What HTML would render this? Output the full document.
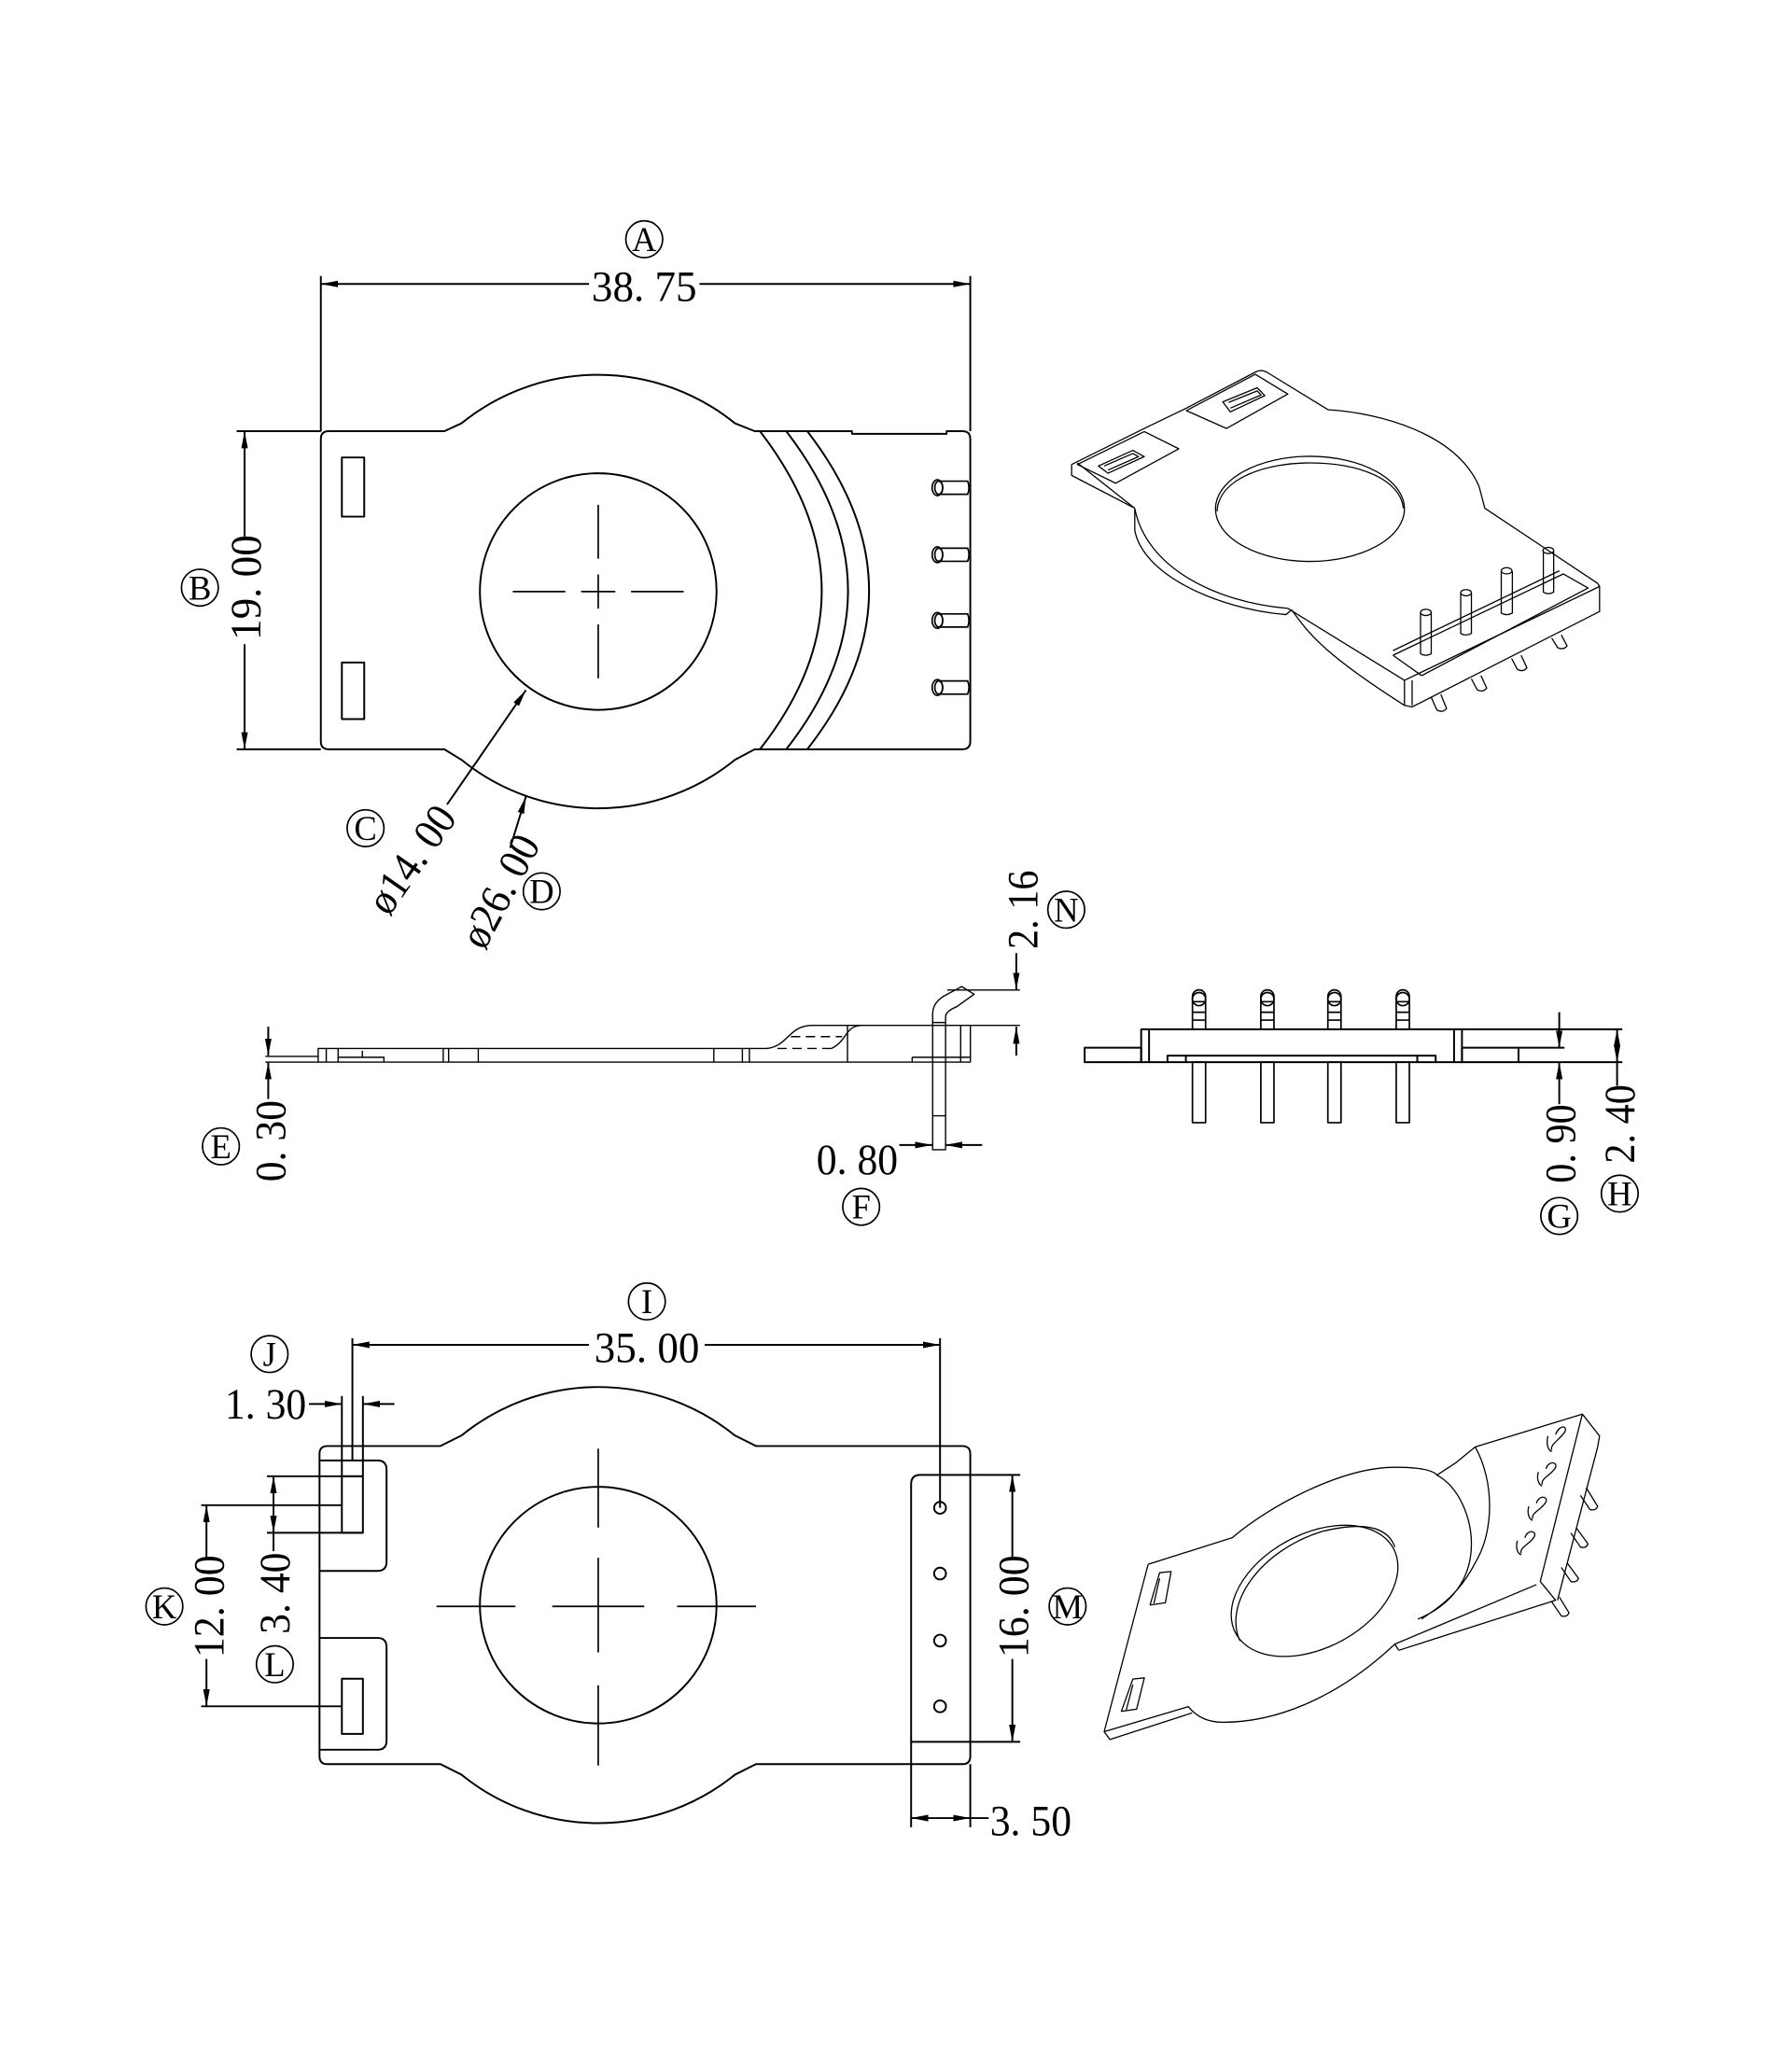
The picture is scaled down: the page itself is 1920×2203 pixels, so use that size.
<!DOCTYPE html>
<html><head><meta charset="utf-8"><style>
html,body{margin:0;padding:0;background:#fff}
svg{display:block}
text{font-family:"Liberation Serif",serif;fill:#000}
</style></head><body>
<svg width="1920" height="2203" viewBox="0 0 1363 1564" xmlns="http://www.w3.org/2000/svg">
<defs>
<marker id="a" markerWidth="14" markerHeight="8" refX="13" refY="4" orient="auto-start-reverse" markerUnits="userSpaceOnUse"><path d="M0,1.5 L13,4 L0,6.5 Z" fill="#000"/></marker>
</defs>
<g fill="none" stroke="#000" stroke-width="1.4" stroke-linejoin="round">

<!-- ================= TOP VIEW ================= -->
<path d="M250,328 L338,328 L351,322 A165,165 0 0 1 559,322 L574,328 L648,328 L648,330 L720,330 L720,328 L732,328 Q738,328 738,334 L738,564 Q738,570 732,570 L574,570 L559,578 A165,165 0 0 1 351,578 L338,570 L250,570 Q244,570 244,564 L244,334 Q244,328 250,328 Z"/>
<circle cx="455" cy="450" r="90"/>
<g stroke-width="1.2">
<line x1="455" y1="384" x2="455" y2="425"/><line x1="455" y1="437" x2="455" y2="463"/><line x1="455" y1="475" x2="455" y2="516"/>
<line x1="390" y1="450" x2="430" y2="450"/><line x1="442" y1="450" x2="468" y2="450"/><line x1="480" y1="450" x2="520" y2="450"/>
</g>
<path d="M578,328 Q672,450 578,570"/>
<path d="M598,328 Q692,450 598,570"/>
<path d="M614,328 Q708,450 614,570"/>
<rect x="260" y="348" width="17" height="45"/>
<rect x="260" y="504" width="17" height="43"/>
<g stroke-width="1.2">
<g transform="translate(0,371)"><ellipse cx="713" cy="0" rx="4" ry="6"/><ellipse cx="714" cy="0" rx="3" ry="5"/><path d="M713,-5 L736,-5 Q738,0 736,5 L713,5"/></g>
<g transform="translate(0,422)"><ellipse cx="713" cy="0" rx="4" ry="6"/><ellipse cx="714" cy="0" rx="3" ry="5"/><path d="M713,-5 L736,-5 Q738,0 736,5 L713,5"/></g>
<g transform="translate(0,472)"><ellipse cx="713" cy="0" rx="4" ry="6"/><ellipse cx="714" cy="0" rx="3" ry="5"/><path d="M713,-5 L736,-5 Q738,0 736,5 L713,5"/></g>
<g transform="translate(0,523)"><ellipse cx="713" cy="0" rx="4" ry="6"/><ellipse cx="714" cy="0" rx="3" ry="5"/><path d="M713,-5 L736,-5 Q738,0 736,5 L713,5"/></g>
</g>
<line x1="244" y1="210" x2="244" y2="328"/>
<line x1="738" y1="210" x2="738" y2="328"/>
<line x1="244" y1="216" x2="448" y2="216" marker-start="url(#a)"/>
<line x1="532" y1="216" x2="738" y2="216" marker-end="url(#a)"/>
<line x1="180" y1="328" x2="244" y2="328"/>
<line x1="180" y1="570" x2="244" y2="570"/>
<line x1="186" y1="328" x2="186" y2="408" marker-start="url(#a)"/>
<line x1="186" y1="490" x2="186" y2="570" marker-end="url(#a)"/>
<line x1="340" y1="612" x2="400" y2="525" marker-end="url(#a)"/>
<line x1="388" y1="645" x2="400" y2="606" marker-end="url(#a)"/>

<!-- ================= SIDE VIEW 1 ================= -->
<g transform="translate(169,757.4) scale(0.41,0.215)">
<path vector-effect="non-scaling-stroke" d="M80,215 L178,215 M80,235 L178,235"/>
<path vector-effect="non-scaling-stroke" d="M178,187 L1010,187 C1050,180 1050,105 1095,105 L1388,105 L1388,235 L178,235 Z"/>
<path vector-effect="non-scaling-stroke" d="M193,187 L193,235 M215,187 L215,235 M410,187 L410,235 M420,187 L420,235 M475,187 L475,235 M912,187 L912,235 M965,187 L965,235 M978,187 L978,235 M1160,105 L1160,235 M1370,105 L1370,235"/>
<path vector-effect="non-scaling-stroke" d="M215,218 L300,218 L300,235 M260,195 L260,218 M1280,218 L1388,218 M1280,218 L1280,235"/>
<path vector-effect="non-scaling-stroke" d="M1130,187 C1160,160 1155,108 1185,105"/>
<path vector-effect="non-scaling-stroke" stroke-dasharray="10 6" d="M1030,187 L1130,187 M1055,145 L1150,145"/>
<path vector-effect="non-scaling-stroke" d="M1318,545 L1318,65 Q1318,20 1345,-5 L1372,-32 L1395,-5 L1362,40 Q1342,55 1342,75 L1342,545 Z M1318,95 L1342,95 M1318,425 L1342,425"/>
<path vector-effect="non-scaling-stroke" d="M1388,105 L1480,105 M1345,-20 L1480,-20"/>
</g>
<line x1="204" y1="781" x2="204" y2="803" marker-end="url(#a)"/>
<line x1="204" y1="836" x2="204" y2="808" marker-end="url(#a)"/>
<line x1="684" y1="871" x2="709" y2="871" marker-end="url(#a)"/>
<line x1="747" y1="871" x2="719" y2="871" marker-end="url(#a)"/>
<line x1="773" y1="725" x2="773" y2="753" marker-end="url(#a)"/>
<line x1="773" y1="803" x2="773" y2="781" marker-end="url(#a)"/>

<!-- ================= SIDE VIEW 2 ================= -->
<rect x="825" y="797" width="43" height="11"/>
<rect x="868" y="783" width="244" height="25"/>
<line x1="874" y1="783" x2="874" y2="808"/>
<line x1="1106" y1="783" x2="1106" y2="808"/>
<rect x="1112" y="797" width="43" height="11"/>
<path d="M888,808 L888,803 L1092,803 L1092,808 M902,803 L902,808 M1078,803 L1078,808"/>
<g stroke-width="1.2">
<g transform="translate(912,0)"><path d="M-5,783 L-5,758 A5,5 0 0 1 5,758 L5,783 M-5,762 L5,762 M-5,770 L5,770 M-5,776 L5,776"/><circle cx="0" cy="760" r="5"/><rect x="-5" y="808" width="10" height="46"/></g>
<g transform="translate(964,0)"><path d="M-5,783 L-5,758 A5,5 0 0 1 5,758 L5,783 M-5,762 L5,762 M-5,770 L5,770 M-5,776 L5,776"/><circle cx="0" cy="760" r="5"/><rect x="-5" y="808" width="10" height="46"/></g>
<g transform="translate(1015,0)"><path d="M-5,783 L-5,758 A5,5 0 0 1 5,758 L5,783 M-5,762 L5,762 M-5,770 L5,770 M-5,776 L5,776"/><circle cx="0" cy="760" r="5"/><rect x="-5" y="808" width="10" height="46"/></g>
<g transform="translate(1067,0)"><path d="M-5,783 L-5,758 A5,5 0 0 1 5,758 L5,783 M-5,762 L5,762 M-5,770 L5,770 M-5,776 L5,776"/><circle cx="0" cy="760" r="5"/><rect x="-5" y="808" width="10" height="46"/></g>
</g>
<path d="M1112,783 L1234,783 M1155,797 L1190,797 M1155,808 L1234,808"/>
<line x1="1186" y1="770" x2="1186" y2="797" marker-end="url(#a)"/>
<line x1="1186" y1="840" x2="1186" y2="808" marker-end="url(#a)"/>
<line x1="1230" y1="796" x2="1230" y2="783" marker-end="url(#a)"/>
<line x1="1230" y1="796" x2="1230" y2="808" marker-end="url(#a)"/>
<line x1="1230" y1="808" x2="1230" y2="826"/>

<!-- ================= BOTTOM VIEW ================= -->
<path d="M249,1100 L335,1100 L351,1092 A165,165 0 0 1 559,1092 L575,1100 L732,1100 Q738,1100 738,1106 L738,1336 Q738,1342 732,1342 L575,1342 L559,1350 A165,165 0 0 1 351,1350 L335,1342 L249,1342 Q243,1342 243,1336 L243,1106 Q243,1100 249,1100 Z"/>
<path d="M243,1111 L287,1111 Q294,1111 294,1118 L294,1188 Q294,1195 287,1195 L243,1195"/>
<path d="M243,1246 L287,1246 Q294,1246 294,1253 L294,1324 Q294,1331 287,1331 L243,1331"/>
<rect x="260" y="1123" width="16" height="43"/>
<rect x="260" y="1277" width="16" height="42"/>
<path d="M738,1122 L700,1122 Q693,1122 693,1129 L693,1342 M693,1325 L738,1325"/>
<circle cx="715" cy="1147" r="4.5"/><circle cx="715" cy="1197" r="4.5"/><circle cx="715" cy="1248" r="4.5"/><circle cx="715" cy="1298" r="4.5"/>
<circle cx="455" cy="1221" r="90"/>
<g stroke-width="1.2">
<line x1="455" y1="1102" x2="455" y2="1162"/><line x1="455" y1="1185" x2="455" y2="1257"/><line x1="455" y1="1282" x2="455" y2="1343"/>
<line x1="332" y1="1222" x2="392" y2="1222"/><line x1="420" y1="1222" x2="490" y2="1222"/><line x1="515" y1="1222" x2="575" y2="1222"/>
</g>
<line x1="268" y1="1018" x2="268" y2="1111"/>
<line x1="715" y1="1018" x2="715" y2="1147"/>
<line x1="268" y1="1023" x2="448" y2="1023" marker-start="url(#a)"/>
<line x1="536" y1="1023" x2="715" y2="1023" marker-end="url(#a)"/>
<line x1="260" y1="1062" x2="260" y2="1123"/>
<line x1="276" y1="1062" x2="276" y2="1123"/>
<line x1="235" y1="1068" x2="260" y2="1068" marker-end="url(#a)"/>
<line x1="300" y1="1068" x2="276" y2="1068" marker-end="url(#a)"/>
<path d="M203,1123 L276,1123 M203,1166 L276,1166 M153,1145 L260,1145 M153,1298 L260,1298"/>
<line x1="208" y1="1145" x2="208" y2="1123" marker-end="url(#a)"/>
<line x1="208" y1="1145" x2="208" y2="1166" marker-end="url(#a)"/>
<line x1="208" y1="1166" x2="208" y2="1180"/>
<line x1="157" y1="1185" x2="157" y2="1145" marker-end="url(#a)"/>
<line x1="157" y1="1262" x2="157" y2="1298" marker-end="url(#a)"/>
<path d="M738,1122 L776,1122 M738,1325 L776,1325"/>
<line x1="770" y1="1186" x2="770" y2="1122" marker-end="url(#a)"/>
<line x1="770" y1="1262" x2="770" y2="1325" marker-end="url(#a)"/>
<path d="M693,1342 L693,1390 M738,1342 L738,1390"/>
<line x1="693" y1="1383" x2="738" y2="1383" marker-start="url(#a)" marker-end="url(#a)"/>
<line x1="738" y1="1383" x2="752" y2="1383"/>
</g>

<!-- ================= ISO TOP ================= -->
<g transform="translate(802,270) scale(0.291,0.238)" fill="none" stroke="#000" stroke-width="1.3" stroke-linejoin="round">
<path vector-effect="non-scaling-stroke" d="M45,350 L235,235 L345,170 L525,55 Q540,45 555,55 L715,175 C850,185 1050,250 1110,420 L1125,490 L1420,730 L1425,740 L1425,820 L935,1125 L915,1120 L915,1040"/>
<path vector-effect="non-scaling-stroke" d="M45,350 L45,385 L210,490 M60,345 L210,490"/>
<path vector-effect="non-scaling-stroke" d="M210,490 L210,560 C230,700 420,810 605,830 L620,815 C660,880 690,945 915,1120"/>
<path vector-effect="non-scaling-stroke" d="M210,490 C240,680 420,790 610,810 L915,1040 L1425,740"/>
<path vector-effect="non-scaling-stroke" d="M935,1040 L935,1120"/>
<ellipse vector-effect="non-scaling-stroke" cx="668" cy="492" rx="247" ry="168"/>
<path vector-effect="non-scaling-stroke" d="M425,500 C430,390 560,345 668,345 C800,345 905,400 912,490"/>
<path vector-effect="non-scaling-stroke" d="M60,350 L235,245 L325,300 L160,410 Z"/>
<path vector-effect="non-scaling-stroke" d="M345,178 L525,62 L610,125 L450,235 Z"/>
<path vector-effect="non-scaling-stroke" d="M115,355 L205,305 L235,325 L140,378 Z M130,355 L205,315 L220,325 L140,368"/>
<path vector-effect="non-scaling-stroke" d="M440,150 L530,105 L550,130 L460,182 Z M455,152 L530,115 L540,128 L460,170"/>
<path vector-effect="non-scaling-stroke" d="M885,960 L1330,700 L1395,745 L960,1025 M885,960 L960,1025 M885,945 L1320,690"/>
<path vector-effect="non-scaling-stroke" d="M957,825 L957,955 Q970,965 985,955 L985,825"/><ellipse vector-effect="non-scaling-stroke" cx="971" cy="823" rx="14" ry="10"/>
<path vector-effect="non-scaling-stroke" d="M1062,762 L1062,890 Q1075,900 1090,890 L1090,762"/><ellipse vector-effect="non-scaling-stroke" cx="1076" cy="760" rx="14" ry="10"/>
<path vector-effect="non-scaling-stroke" d="M1168,692 L1168,825 Q1182,835 1197,825 L1197,692"/><ellipse vector-effect="non-scaling-stroke" cx="1182" cy="690" rx="14" ry="10"/>
<path vector-effect="non-scaling-stroke" d="M1278,627 L1278,758 Q1291,768 1305,758 L1305,627"/><ellipse vector-effect="non-scaling-stroke" cx="1291" cy="625" rx="14" ry="10"/>
<path vector-effect="non-scaling-stroke" d="M985,1095 L1000,1135 Q1015,1145 1025,1130 L1010,1085 M1090,1035 L1105,1070 Q1120,1080 1130,1065 L1115,1025 M1195,970 L1210,1005 Q1225,1015 1235,1000 L1220,960 M1300,905 L1315,935 Q1330,945 1340,930 L1325,895"/>
</g>

<!-- ================= ISO BOTTOM ================= -->
<g transform="translate(802,1065) scale(0.291,0.238)" fill="none" stroke="#000" stroke-width="1.3" stroke-linejoin="round">
<path vector-effect="non-scaling-stroke" d="M245,525 L465,440 C560,340 750,215 890,215 C960,215 990,225 1000,240 L1050,200 L1100,150 L1380,45 L1425,115 L1420,150 L1315,640"/>
<path vector-effect="non-scaling-stroke" d="M1380,45 L1270,580 L1310,640 L900,800 M1260,590 L890,780 C760,930 600,1030 440,1030 C400,1030 370,1010 350,980 L130,1060 L245,525 M130,1060 L145,1085 L360,1000"/>
<path vector-effect="non-scaling-stroke" d="M890,780 L900,800 M1000,240 C1060,280 1090,380 1090,460 C1090,600 1010,670 950,700 M1100,150 C1150,260 1150,420 1100,520 C1050,640 980,680 960,700"/>
<ellipse vector-effect="non-scaling-stroke" cx="680" cy="610" rx="250" ry="170" transform="rotate(-42 680 610)"/>
<path vector-effect="non-scaling-stroke" d="M485,770 C440,650 540,480 700,420 C800,390 870,400 890,470"/>
<path vector-effect="non-scaling-stroke" d="M275,552 L305,548 L290,648 L250,655 Z M275,570 L260,650"/>
<path vector-effect="non-scaling-stroke" d="M205,892 L235,888 L215,988 L175,995 Z M205,910 L188,990"/>
<path vector-effect="non-scaling-stroke" d="M1310,110 C1320,80 1340,80 1335,100 C1320,130 1295,140 1300,160 M1290,115 C1285,140 1290,160 1300,165 M1285,220 C1290,195 1315,195 1310,215 C1300,240 1270,250 1275,270 M1265,230 C1260,250 1265,270 1275,275 M1260,330 C1265,305 1290,305 1285,325 C1275,350 1245,360 1250,380 M1240,340 C1235,360 1240,380 1250,385 M1230,440 C1235,415 1260,415 1255,435 C1245,460 1215,470 1220,490 M1210,450 C1205,470 1210,490 1220,495"/>
<path vector-effect="non-scaling-stroke" d="M1390,280 L1420,340 Q1415,355 1400,350 L1375,305 M1365,410 L1395,460 Q1390,475 1375,470 L1350,425 M1340,520 L1370,570 Q1365,585 1350,580 L1325,535 M1320,630 L1345,680 Q1340,695 1325,690 L1300,645"/>
</g>

<!-- ================= TEXT ================= -->
<g font-size="33">
<text x="490" y="229" text-anchor="middle" textLength="80" lengthAdjust="spacingAndGlyphs">38. 75</text>
<text transform="translate(198,447) rotate(-90)" text-anchor="middle" textLength="80" lengthAdjust="spacingAndGlyphs">19. 00</text>
<text transform="translate(322,660) rotate(-55)" text-anchor="middle" textLength="92" lengthAdjust="spacingAndGlyphs">ø14. 00</text>
<text transform="translate(390,683) rotate(-62)" text-anchor="middle" textLength="92" lengthAdjust="spacingAndGlyphs">ø26. 00</text>
<text transform="translate(789,692) rotate(-90)" text-anchor="middle" textLength="60" lengthAdjust="spacingAndGlyphs">2. 16</text>
<text transform="translate(217,868) rotate(-90)" text-anchor="middle" textLength="62" lengthAdjust="spacingAndGlyphs">0. 30</text>
<text x="652" y="893" text-anchor="middle" textLength="62" lengthAdjust="spacingAndGlyphs">0. 80</text>
<text transform="translate(1198,870) rotate(-90)" text-anchor="middle" textLength="60" lengthAdjust="spacingAndGlyphs">0. 90</text>
<text transform="translate(1243,855) rotate(-90)" text-anchor="middle" textLength="60" lengthAdjust="spacingAndGlyphs">2. 40</text>
<text x="492" y="1036" text-anchor="middle" textLength="80" lengthAdjust="spacingAndGlyphs">35. 00</text>
<text x="202" y="1079" text-anchor="middle" textLength="62" lengthAdjust="spacingAndGlyphs">1. 30</text>
<text transform="translate(170,1222) rotate(-90)" text-anchor="middle" textLength="78" lengthAdjust="spacingAndGlyphs">12. 00</text>
<text transform="translate(220,1212) rotate(-90)" text-anchor="middle" textLength="62" lengthAdjust="spacingAndGlyphs">3. 40</text>
<text transform="translate(782,1222) rotate(-90)" text-anchor="middle" textLength="78" lengthAdjust="spacingAndGlyphs">16. 00</text>
<text x="784" y="1396" text-anchor="middle" textLength="62" lengthAdjust="spacingAndGlyphs">3. 50</text>
</g>
<g font-size="26" text-anchor="middle">
<g fill="none" stroke="#000" stroke-width="1.2">
<circle cx="490" cy="182" r="14"/><circle cx="152" cy="447" r="14"/><circle cx="278" cy="630" r="14"/><circle cx="412" cy="678" r="14"/>
<circle cx="811" cy="692" r="14"/><circle cx="168" cy="872" r="14"/><circle cx="655" cy="918" r="14"/>
<circle cx="1186" cy="925" r="14"/><circle cx="1232" cy="908" r="14"/>
<circle cx="492" cy="990" r="14"/><circle cx="205" cy="1030" r="14"/><circle cx="125" cy="1222" r="14"/><circle cx="209" cy="1266" r="14"/><circle cx="812" cy="1222" r="14"/>
</g>
<text x="490" y="191">A</text><text x="152" y="456">B</text><text x="278" y="639">C</text><text x="412" y="687">D</text>
<text x="811" y="701">N</text><text x="168" y="881">E</text><text x="655" y="927">F</text>
<text x="1186" y="934">G</text><text x="1232" y="917">H</text>
<text x="492" y="999">I</text><text x="205" y="1039">J</text><text x="125" y="1231">K</text><text x="209" y="1275">L</text><text x="812" y="1231">M</text>
</g>
</svg>
</body></html>
